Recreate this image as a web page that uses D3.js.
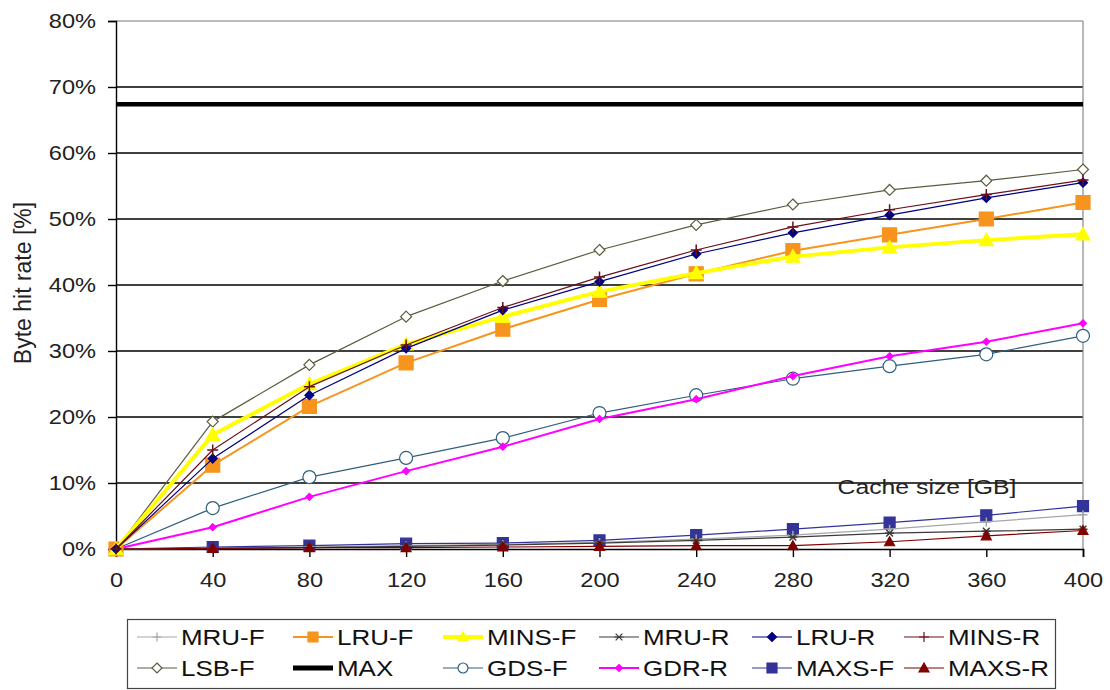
<!DOCTYPE html>
<html><head><meta charset="utf-8">
<script src="https://cdn.jsdelivr.net/npm/d3@7"></script>
<style>body{margin:0;background:#fff;} svg{display:block;font-family:"Liberation Sans",Arial,sans-serif;}</style>
</head><body><svg id="c" width="1110" height="690"></svg>
<script>
const xValues = [0,40,80,120,160,200,240,280,320,360,400];
const yTicks = [0,0.1,0.2,0.3,0.4,0.5,0.6,0.7,0.8];
const seriesNames = ["MRU-F","LRU-F","MINS-F","MRU-R","LRU-R","MINS-R","LSB-F","MAX","GDS-F","GDR-R","MAXS-F","MAXS-R"];
const mruF  = [0,0.1,0.3,0.5,0.7,1.0,1.5,2.1,3.0,4.1,5.2];
const lruF  = [0,12.7,21.6,28.2,33.3,37.8,41.7,45.2,47.6,50.0,52.5];
const minsF = [0,17.3,25.0,31.0,35.2,39.0,41.8,44.3,45.7,46.8,47.7];
const mruR  = [0,0.1,0.2,0.4,0.6,0.9,1.3,1.8,2.4,2.7,3.0];
const lruR  = [0,13.7,23.3,30.4,36.2,40.5,44.7,47.9,50.6,53.2,55.5];
const minsR = [0,15.0,24.6,30.9,36.6,41.2,45.3,48.8,51.4,53.7,55.9];
const lsbF  = [0,19.3,27.9,35.2,40.6,45.3,49.1,52.2,54.4,55.8,57.5];
const maxV  = [67.4,67.4,67.4,67.4,67.4,67.4,67.4,67.4,67.4,67.4,67.4];
const gdsF  = [0,6.2,10.9,13.8,16.8,20.6,23.3,25.8,27.7,29.5,32.3];
const gdrR  = [0,3.3,7.9,11.8,15.5,19.7,22.7,26.2,29.2,31.4,34.2];
const maxsF = [0,0.3,0.5,0.8,0.9,1.3,2.1,3.0,4.0,5.1,6.5];
const maxsR = [0,0.1,0.2,0.2,0.3,0.4,0.5,0.5,1.1,2.0,2.8];

const styles = {
  "MRU-F":  {c:"#a6a6a6", w:1.2, m:"plus", ms:9, fill:"none"},
  "LRU-F":  {c:"#f7941d", w:2, m:"square", ms:14, fill:"#f7941d"},
  "MINS-F": {c:"#ffff00", w:4, m:"triangle", ms:14, fill:"#ffff00"},
  "MRU-R":  {c:"#3a3a3a", w:1.2, m:"star", ms:9, fill:"none"},
  "LRU-R":  {c:"#000080", w:1.2, m:"diamond", ms:9, fill:"#000080"},
  "MINS-R": {c:"#6b0f1a", w:1.2, m:"plus", ms:11, fill:"none"},
  "LSB-F":  {c:"#5c5c3d", w:1.2, m:"odiamond", ms:11, fill:"#fff"},
  "MAX":    {c:"#000000", w:4.5, m:null},
  "GDS-F":  {c:"#2f5f7f", w:1.2, m:"ocircle", ms:13, fill:"#fff"},
  "GDR-R":  {c:"#ff00ff", w:2, m:"diamond", ms:7, fill:"#ff00ff"},
  "MAXS-F": {c:"#333399", w:1.2, m:"square", ms:11, fill:"#333399"},
  "MAXS-R": {c:"#800000", w:1.2, m:"triangle", ms:10, fill:"#800000"}
};
const dataMap = {"MRU-F":mruF,"LRU-F":lruF,"MINS-F":minsF,"MRU-R":mruR,"LRU-R":lruR,"MINS-R":minsR,
  "LSB-F":lsbF,"MAX":maxV,"GDS-F":gdsF,"GDR-R":gdrR,"MAXS-F":maxsF,"MAXS-R":maxsR};

const SX = 1.18; // horizontal stretch of the reference's text
const svg = d3.select("#c");
const x = d3.scaleLinear().domain([0,400]).range([116,1083]);
const y = d3.scaleLinear().domain([0,0.8]).range([549,21]);

// gridlines
svg.append("g").selectAll("line").data(yTicks.filter(t=>t>0)).join("line")
  .attr("x1",x(0)).attr("x2",x(400)).attr("y1",d=>y(d)).attr("y2",d=>y(d))
  .attr("stroke",d=>d===0.8?"#777":"#000").attr("stroke-width",d=>d===0.8?1.2:1.6);
// right border
svg.append("line").attr("x1",x(400)).attr("x2",x(400)).attr("y1",y(0.8)).attr("y2",y(0))
  .attr("stroke","#888").attr("stroke-width",1.2);

// y axis
const yAxis = d3.axisLeft(y).tickValues(yTicks).tickFormat(d3.format(".0%")).tickSize(8).tickPadding(11);
const gy = svg.append("g").attr("transform",`translate(${x(0)},0)`).call(yAxis);
gy.select(".domain").attr("stroke","#000").attr("stroke-width",1.4);
gy.selectAll(".tick line").attr("stroke","#000").attr("stroke-width",1.4);
gy.selectAll(".tick text").attr("font-size",20).attr("fill","#222")
  .attr("font-family","Liberation Sans, Arial, sans-serif")
  .attr("x",-20/SX).attr("transform",`scale(${SX},1)`);

// x axis
const xAxis = d3.axisBottom(x).tickValues(xValues).tickSize(8).tickPadding(16);
const gx = svg.append("g").attr("transform",`translate(0,${y(0)})`).call(xAxis);
gx.select(".domain").attr("stroke","#000").attr("stroke-width",1.6);
gx.selectAll(".tick line").attr("stroke","#000").attr("stroke-width",1.4);
gx.selectAll(".tick text").attr("font-size",20).attr("fill","#222")
  .attr("font-family","Liberation Sans, Arial, sans-serif")
  .attr("transform",`scale(${SX},1)`);

// markers
function markerPath(type, s){
  const h = s/2;
  switch(type){
    case "plus": return `M${-h},0H${h}M0,${-h}V${h}`;
    case "star": return `M${-h},0H${h}M${-h*0.75},${-h*0.75}L${h*0.75},${h*0.75}M${-h*0.75},${h*0.75}L${h*0.75},${-h*0.75}`;
    case "square": return `M${-h},${-h}H${h}V${h}H${-h}Z`;
    case "triangle": return `M0,${-h}L${h},${h*0.8}L${-h},${h*0.8}Z`;
    case "diamond": case "odiamond": return `M0,${-h}L${h},0L0,${h}L${-h},0Z`;
    case "ocircle": return d3.symbol(d3.symbolCircle, Math.PI*h*h)();
  }
  return "";
}

const line = d3.line().x((d,i)=>x(xValues[i])).y(d=>y(d/100));
const drawOrder = ["MAX","GDS-F","GDR-R","MAXS-F","MRU-F","MRU-R","MAXS-R","LSB-F","LRU-F","MINS-F","LRU-R","MINS-R"];
drawOrder.forEach(name=>{
  const st = styles[name], vals = dataMap[name];
  const g = svg.append("g");
  g.append("path").datum(vals).attr("d",line).attr("fill","none")
    .attr("stroke",st.c).attr("stroke-width",st.w).attr("stroke-linejoin","round");
  if(st.m){
    g.selectAll("path.m").data(vals).join("path").attr("class","m")
      .attr("transform",(d,i)=>`translate(${x(xValues[i])},${y(d/100)})`)
      .attr("d",markerPath(st.m, st.ms))
      .attr("fill",(st.m==="plus"||st.m==="star")?"none":st.fill)
      .attr("stroke",st.c).attr("stroke-width",(st.m==="plus"||st.m==="star")?1.5:1.2);
  }
});

// axis titles
svg.append("text").attr("transform",`translate(927,494) scale(${SX},1)`).attr("text-anchor","middle")
  .attr("font-size",21).attr("fill","#222").text("Cache size [GB]");
svg.append("text").attr("transform","translate(31,283) rotate(-90)").attr("text-anchor","middle")
  .attr("font-size",23).attr("fill","#222").text("Byte hit rate [%]");

// legend
const leg = svg.append("g");
leg.append("rect").attr("x",127.5).attr("y",619.5).attr("width",928).attr("height",69)
  .attr("fill","#fff").attr("stroke","#444").attr("stroke-width",1.2);
const colX = [137,293,443,599,752,904];
const rowY = [637,668];
seriesNames.forEach((name,i)=>{
  const st = styles[name];
  const cx = colX[i%6], cy = rowY[Math.floor(i/6)];
  const g = leg.append("g").attr("transform",`translate(${cx},${cy})`);
  g.append("line").attr("x1",0).attr("x2",40).attr("y1",0).attr("y2",0)
    .attr("stroke",st.c).attr("stroke-width",name==="MAX"?5:st.w);
  if(st.m){
    g.append("path").attr("transform","translate(20,0)").attr("d",markerPath(st.m, Math.min(st.ms,10)))
      .attr("fill",(st.m==="plus"||st.m==="star")?"none":st.fill)
      .attr("stroke",st.c).attr("stroke-width",1.2);
  }
  g.append("text").attr("transform",`translate(44,8) scale(${SX},1)`).attr("font-size",22)
    .attr("fill","#111").text(name);
});
</script></body></html>
